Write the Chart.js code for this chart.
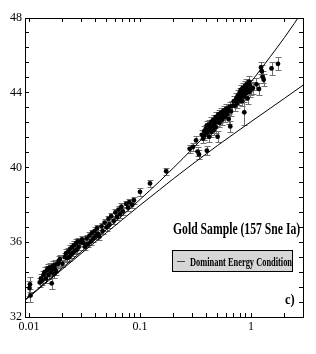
<!DOCTYPE html>
<html>
  <head>
    <title>Gold Sample</title>
    <script src="https://cdn.jsdelivr.net/npm/chart.js"></script>
    <style>
      body {
        margin: 0;
        background: white;
      }
      .wrap {
        position: relative;
        width: 316px;
        height: 354px;
      }
      .note {
        position: absolute;
        font-family: "Liberation Serif", serif;
        font-weight: bold;
        color: #000;
        white-space: nowrap;
        transform-origin: 0 0;
        line-height: 1;
      }
      #title {
        left: 173px;
        top: 221px;
        font-size: 16px;
      }
      #legend {
        position: absolute;
        left: 172px;
        top: 250px;
        width: 121px;
        height: 22px;
        background: #d6d6d6;
        border: 1px solid #000;
        box-sizing: border-box;
      }
      #legend .swatch {
        position: absolute;
        left: 4px;
        top: 10px;
        width: 8px;
        height: 0;
        border-top: 1.5px solid #444;
      }
      #legendText {
        left: 17px;
        top: 5px;
        font-size: 12px;
      }
      #panel {
        left: 285px;
        top: 292px;
        font-size: 15px;
      }
    </style>
  </head>
  <body>
    <div class="wrap">
      <canvas id="hubbleChart" width="316" height="354"></canvas>
      <div class="note" id="title">Gold Sample (157 Sne Ia)</div>
      <div id="legend">
        <div class="swatch"></div>
        <div class="note" id="legendText">Dominant Energy Condition</div>
      </div>
      <div class="note" id="panel">c)</div>
    </div>

    <script>
      // supernova redshifts, distance moduli and 1-sigma errors
      const zValues = [
        0.0101, 0.0102, 0.0103, 0.0125, 0.0128, 0.0132, 0.0135, 0.0138, 0.0142, 0.0145, 0.0148, 0.015, 0.0155, 0.0158,
        0.016, 0.0162, 0.0165, 0.0168, 0.017, 0.0172, 0.0175, 0.0182, 0.0185, 0.019, 0.02,
        0.021, 0.0215, 0.022, 0.0225, 0.023, 0.0235, 0.024, 0.0245, 0.025, 0.0255, 0.026, 0.0265, 0.027, 0.0275, 0.028, 0.029, 0.03,
        0.031, 0.032, 0.033, 0.034, 0.035, 0.036, 0.037, 0.038, 0.039, 0.04, 0.041, 0.042, 0.043, 0.045, 0.046, 0.048,
        0.05, 0.052, 0.053, 0.055, 0.058, 0.06, 0.062, 0.064, 0.066, 0.068, 0.07, 0.075, 0.078, 0.08, 0.085, 0.088,
        0.1, 0.123, 0.172,
        0.28, 0.3, 0.32, 0.33, 0.34, 0.4,
        0.36, 0.37, 0.38, 0.38, 0.39, 0.4, 0.4, 0.41, 0.42, 0.42, 0.43, 0.44, 0.44, 0.45, 0.46, 0.46, 0.47, 0.48, 0.48, 0.49,
        0.5, 0.5, 0.51, 0.52, 0.53, 0.54, 0.55, 0.56, 0.57, 0.58, 0.59, 0.6, 0.61, 0.62, 0.63, 0.64, 0.65, 0.66, 0.68,
        0.7, 0.72, 0.74, 0.75, 0.76, 0.78, 0.79, 0.8, 0.81, 0.82, 0.83, 0.84, 0.85, 0.86, 0.87, 0.88, 0.89, 0.9, 0.91, 0.92, 0.93, 0.95, 0.96, 0.97, 0.98,
        1.01, 1.04, 1.12, 1.18, 1.23, 1.25, 1.27, 1.3, 1.53, 1.75,
      ];
      const muValues = [
        33.55, 33.75, 33.15, 33.85, 34.05, 33.95, 34.25, 34.4, 34.05, 34.5, 34.6, 34.25, 34.65, 34.4,
        33.8, 34.55, 34.75, 34.3, 34.6, 34.8, 34.45, 34.85, 35.0, 35.1, 34.85,
        35.2, 35.4, 35.15, 35.5, 35.2, 35.65, 35.35, 35.75, 35.45, 35.85, 35.55, 35.95, 35.6, 36.05, 35.75, 36.0, 36.15,
        35.95, 35.75, 36.2, 35.9, 36.35, 36.05, 36.5, 36.2, 36.6, 36.35, 36.75, 36.45, 36.3, 36.85, 36.6, 37.05,
        36.8, 37.25, 36.95, 37.4, 37.15, 37.6, 37.35, 37.75, 37.5, 37.9, 37.65, 38.05, 37.85, 38.15, 38.0, 38.25,
        38.7, 39.15, 39.8,
        41.0, 41.1, 41.45, 40.85, 40.7, 40.9,
        41.75, 41.55, 41.95, 41.7, 42.05, 41.85, 42.25, 42.0, 41.65, 42.3, 42.1, 42.45, 41.9, 42.2, 42.55, 42.0, 42.35, 42.7, 42.15, 42.45,
        41.65, 42.6, 42.85, 42.4, 42.65, 42.95, 42.55, 42.8, 43.05, 42.7, 42.9, 43.15, 42.85, 43.05, 42.6, 43.25, 42.2, 43.0, 43.3,
        43.55, 43.3, 43.7, 43.45, 43.85, 43.6, 44.0, 43.75, 44.15, 43.9, 43.55, 44.25, 44.05, 43.8, 42.95, 44.35, 44.1, 43.95, 44.45, 44.2, 43.7, 44.3, 44.6, 44.05, 44.4,
        44.2, 44.25, 44.45, 44.2, 45.35, 45.15, 44.85, 44.7, 45.3, 45.55,
      ];
      const muErrors = [
        0.4, 0.4, 0.35, 0.25, 0.25, 0.22, 0.22, 0.25, 0.25, 0.25, 0.22, 0.22, 0.25, 0.22,
        0.3, 0.2, 0.22, 0.2, 0.22, 0.25, 0.22, 0.22, 0.25, 0.22, 0.2,
        0.2, 0.22, 0.2, 0.2, 0.2, 0.22, 0.2, 0.2, 0.18, 0.2, 0.2, 0.2, 0.18, 0.2, 0.18, 0.2, 0.2,
        0.2, 0.18, 0.2, 0.18, 0.18, 0.2, 0.18, 0.18, 0.2, 0.18, 0.18, 0.18, 0.2, 0.18, 0.18, 0.18,
        0.18, 0.18, 0.2, 0.18, 0.18, 0.18, 0.18, 0.18, 0.18, 0.18, 0.18, 0.18, 0.18, 0.18, 0.18, 0.18,
        0.2, 0.2, 0.2,
        0.22, 0.22, 0.22, 0.25, 0.22, 0.25,
        0.25, 0.25, 0.25, 0.25, 0.25, 0.25, 0.25, 0.25, 0.3, 0.25, 0.25, 0.25, 0.25, 0.25, 0.25, 0.25, 0.25, 0.25, 0.3, 0.25,
        0.3, 0.25, 0.25, 0.25, 0.25, 0.25, 0.25, 0.25, 0.25, 0.25, 0.25, 0.25, 0.25, 0.25, 0.25, 0.25, 0.3, 0.25, 0.25,
        0.28, 0.28, 0.28, 0.28, 0.28, 0.28, 0.28, 0.28, 0.28, 0.28, 0.28, 0.28, 0.28, 0.28, 0.65, 0.28, 0.28, 0.28, 0.28, 0.28, 0.28, 0.28, 0.28, 0.28, 0.28,
        0.3, 0.3, 0.32, 0.32, 0.32, 0.32, 0.32, 0.32, 0.35, 0.35,
      ];

      // the two bounding curves
      const curveZ = [0.0092, 0.015, 0.02, 0.03, 0.05, 0.07, 0.1, 0.15, 0.2, 0.3, 0.5, 0.7, 1, 1.5, 2, 3];
      const upperMu = [32.92, 33.99, 34.63, 35.53, 36.68, 37.45, 38.29, 39.26, 39.98, 41.03, 42.43, 43.46, 44.58, 45.95, 46.95, 48.47];
      const lowerMu = [32.89, 33.94, 34.56, 35.43, 36.52, 37.23, 37.98, 38.81, 39.4, 40.2, 41.18, 41.8, 42.45, 43.18, 43.7, 44.44];

      const xTicks = [0.01, 0.02, 0.03, 0.04, 0.05, 0.06, 0.07, 0.08, 0.09, 0.1, 0.2, 0.3, 0.4, 0.5, 0.6, 0.7, 0.8, 0.9, 1, 2];
      const xLabels = [0.01, 0.1, 1];
      const yTicks = [32, 32.8, 33.6, 34.4, 35.2, 36, 36.8, 37.6, 38.4, 39.2, 40, 40.8, 41.6, 42.4, 43.2, 44, 44.8, 45.6, 46.4, 47.2, 48];
      const yLabels = [32, 36, 40, 44, 48];

      const tickFont = { family: "Liberation Serif", size: 12 };

      const frame = (ticks, labels, showLabels, size) => ({
        bounds: "data",
        border: { display: true, color: "#000", width: 1 },
        grid: { drawOnChartArea: false, drawTicks: true, tickLength: -4, color: "#000" },
        ticks: {
          display: showLabels,
          autoSkip: false,
          maxRotation: 0,
          padding: 7,
          color: "#000",
          font: tickFont,
          callback: (v) => (labels.includes(v) ? String(v) : ""),
        },
        afterBuildTicks: (scale) => {
          scale.ticks = ticks.map((v) => ({ value: v }));
        },
        afterFit: size,
      });

      const errorBars = {
        id: "errorBars",
        beforeDatasetsDraw(chart) {
          const { ctx, chartArea, scales } = chart;
          ctx.save();
          ctx.beginPath();
          ctx.rect(chartArea.left, chartArea.top, chartArea.width, chartArea.height);
          ctx.clip();
          ctx.strokeStyle = "#707070";
          ctx.lineWidth = 1;
          zValues.forEach((z, i) => {
            const px = Math.round(scales.x.getPixelForValue(z)) + 0.5;
            const top = Math.round(scales.y.getPixelForValue(muValues[i] + muErrors[i])) + 0.5;
            const bot = Math.round(scales.y.getPixelForValue(muValues[i] - muErrors[i])) + 0.5;
            ctx.beginPath();
            ctx.moveTo(px, top);
            ctx.lineTo(px, bot);
            ctx.moveTo(px - 3, top);
            ctx.lineTo(px + 3, top);
            ctx.moveTo(px - 3, bot);
            ctx.lineTo(px + 3, bot);
            ctx.stroke();
          });
          ctx.restore();
        },
      };

      new Chart(document.getElementById("hubbleChart"), {
        type: "scatter",
        data: {
          datasets: [
            {
              label: "Gold Sample",
              data: zValues.map((z, i) => ({ x: z, y: muValues[i] })),
              backgroundColor: "#000",
              borderColor: "#000",
              pointRadius: 2.4,
              pointBorderWidth: 0,
            },
            {
              label: "upper bound",
              data: curveZ.map((z, i) => ({ x: z, y: upperMu[i] })),
              showLine: true,
              borderColor: "#000",
              borderWidth: 1,
              pointRadius: 0,
              cubicInterpolationMode: "monotone",
            },
            {
              label: "lower bound",
              data: curveZ.map((z, i) => ({ x: z, y: lowerMu[i] })),
              showLine: true,
              borderColor: "#000",
              borderWidth: 1,
              pointRadius: 0,
              cubicInterpolationMode: "monotone",
            },
          ],
        },
        options: {
          responsive: false,
          animation: false,
          layout: { padding: { top: 18, right: 13, left: 0, bottom: 0 } },
          plugins: { legend: { display: false }, tooltip: { enabled: false } },
          scales: {
            x: {
              type: "logarithmic",
              position: "bottom",
              min: 0.0092,
              max: 2.94,
              ...frame(xTicks, xLabels, true, (s) => { s.height = 37; }),
            },
            x2: {
              type: "logarithmic",
              position: "top",
              min: 0.0092,
              max: 2.94,
              ...frame(xTicks, xLabels, false, (s) => { s.height = 0; }),
            },
            y: {
              type: "linear",
              position: "left",
              min: 32,
              max: 48,
              ...frame(yTicks, yLabels, true, (s) => { s.width = 25; }),
            },
            y2: {
              type: "linear",
              position: "right",
              min: 32,
              max: 48,
              ...frame(yTicks, yLabels, false, (s) => { s.width = 0; }),
            },
          },
        },
        plugins: [errorBars],
      });

      // squeeze the serif captions to the narrow face of the original
      const squeeze = (id, width) => {
        const el = document.getElementById(id);
        el.style.transform = `scaleX(${width / el.offsetWidth})`;
      };
      squeeze("title", 127);
      squeeze("legendText", 102);
      squeeze("panel", 10);
    </script>
  </body>
</html>
